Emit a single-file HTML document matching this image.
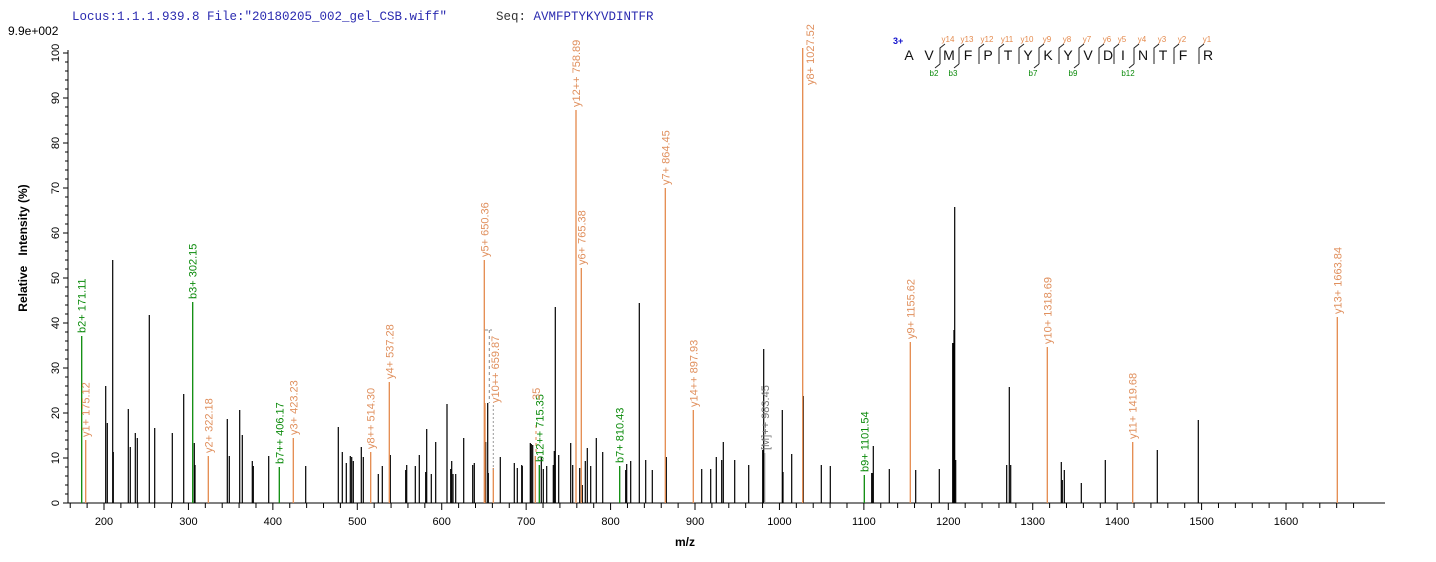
<!DOCTYPE html>
<html><head><meta charset="utf-8"><style>
body{margin:0;background:#fff;width:1436px;height:562px;overflow:hidden}
svg{display:block}
.t{font-family:"Liberation Sans",Arial,sans-serif}
.lo{fill:#e0905e;font-size:11px}
.lg{fill:#0a8a0a;font-size:11px}
.gr{fill:#777;font-size:11px}
</style></head><body>
<svg width="1436" height="562" xmlns="http://www.w3.org/2000/svg">
<text x="72" y="20" font-family="Liberation Mono,monospace" font-size="12.5" fill="#2b2bb0">Locus:1.1.1.939.8 File:"20180205_002_gel_CSB.wiff"</text>
<text x="496" y="20" font-family="Liberation Mono,monospace" font-size="12.5" fill="#333">Seq: <tspan fill="#2b2bb0">AVMFPTYKYVDINTFR</tspan></text>
<text x="8" y="35" class="t" font-size="12" fill="#000">9.9e+002</text>
<text class="t" font-size="12" font-weight="bold" style="white-space:pre" transform="translate(27,248) rotate(-90)" text-anchor="middle">Relative   Intensity (%)</text>
<text x="685" y="546" class="t" font-size="12" font-weight="bold" text-anchor="middle">m/z</text>
<g id="axes" stroke="#000" stroke-width="1"></g>
<g id="ticks" class="t" font-size="11"></g>
<g id="peaks"></g>
<g id="labels" class="t"></g>
<g class="t">
<text x="893" y="44" font-size="9" fill="#1010cc" font-weight="bold">3+</text>
<g id="seq" font-size="14" fill="#111"></g>
</g>
</svg>
<script>
const NS="http://www.w3.org/2000/svg";
function el(p,tag,a,txt){const e=document.createElementNS(NS,tag);for(const k in a)e.setAttribute(k,a[k]);if(txt!=null)e.textContent=txt;document.getElementById(p).appendChild(e);return e;}
const X0=104,K=0.8443,B=503;
const X=m=>X0+(m-200)*K;
el("axes","line",{x1:68,y1:B,x2:1385,y2:B});
el("axes","line",{x1:68,y1:B,x2:68,y2:50});
for(let p=0;p<=100;p+=2){const y=B-p*4.5;const maj=p%10==0;el("axes","line",{x1:maj?63:65,y1:y,x2:68,y2:y});
 if(maj){el("ticks","text",{transform:`translate(59,${y}) rotate(-90)`,"text-anchor":"middle"},String(p));}}
for(let m=160;m<=1680;m+=20){const x=X(m);const maj=m%100==0;el("axes","line",{x1:x,y1:B,x2:x,y2:B+(maj?7:5)});
 if(maj&&m<=1600)el("ticks","text",{x:x,y:B+22,"text-anchor":"middle"},String(m));}
const blk=[[105.7,386],[107.3,423],[112.7,260],[113.3,452],[128.3,409],[130.3,447],[135.3,433],[137.3,438],[149.3,315],[154.7,428],[172.3,433],[183.7,394],[194.3,443],[195,465],[227.3,419],[229.3,456],[239.7,410],[242.3,435],[252.3,461],[253.3,466],[268.7,456],[305.7,466],[338.3,427],[342.3,452],[346.3,463],[350.3,456],[351.7,457],[353.3,461],[361.3,447],[363.3,457],[378.3,474],[382.3,466],[390.3,455],[405.7,470],[406.7,465],[415.3,466],[419.3,455],[425.7,472],[426.7,429],[431.3,474],[435.7,442],[447,404],[450.7,469],[451.7,461],[453,474],[455.7,474],[463.7,438],[472.7,465],[474.3,463],[485.7,442],[487.7,403],[488.3,473],[500.3,457],[514.3,463],[517.3,468],[521.7,465],[522.3,466],[530.3,443],[531.3,444],[532.7,445],[541.3,457],[543.3,469],[546.7,466],[553.3,465],[554.3,451],[555.3,307],[558.7,455],[570.7,443],[572.7,465],[579.7,468],[582.3,485],[585.3,461],[587.3,448],[590.7,466],[596.3,438],[602.7,452],[625.7,470],[626.7,464],[630.7,461],[639.3,303],[645.7,460],[652.3,470],[666.3,457],[701.7,469],[710.7,469],[716.3,457],[721.7,460],[723.3,442],[734.7,460],[748.7,465],[762.7,450],[763.3,450],[763.7,349],[782.3,410],[783,472],[791.7,454],[803.3,396],[821.3,465],[830.3,466],[871.7,473],[872.3,473],[873.3,446],[889.3,469],[915.7,470],[939.3,469],[952.7,343],[953.3,343],[954,330],[954.7,207],[955.7,460],[1006.7,465],[1009.3,387],[1010.7,465],[1061.3,462],[1062.3,480],[1064.3,470],[1081.3,483],[1105.3,460],[1157.3,450],[1198.3,420]];
blk.forEach(([x,t])=>el("peaks","line",{x1:x,y1:B,x2:x,y2:t,stroke:"#000","stroke-width":1.2}));
const OR="#e4894c",GN="#0a8a0a";
const ann=[[81.7,336,GN,"b2+ 171.11","lg"],[85.7,440,OR,"y1+ 175.12","lo"],[192.7,302,GN,"b3+ 302.15","lg"],[208.3,456,OR,"y2+ 322.18","lo"],[279.3,467,GN,"b7++ 406.17","lg"],[293.3,438,OR,"y3+ 423.23","lo"],[370.7,452,OR,"y8++ 514.30","lo"],[389.3,382,OR,"y4+ 537.28","lo"],[484.3,260,OR,"y5+ 650.36","lo"],[485,403,OR,null],[493.3,468,OR,null],[535.3,456,OR,null],[539.3,465,GN,"b12++ 715.35","lg"],[576,110,OR,"y12++ 758.89","lo"],[581.3,268,OR,"y6+ 765.38","lo"],[619.7,466,GN,"b7+ 810.43","lg"],[665.3,188,OR,"y7+ 864.45","lo"],[693.3,410,OR,"y14++ 897.93","lo"],[802.7,48,OR,null],[864.3,475,GN,"b9+ 1101.54","lg"],[910.3,342,OR,"y9+ 1155.62","lo"],[1047.3,347,OR,"y10+ 1318.69","lo"],[1132.7,442,OR,"y11+ 1419.68","lo"],[1337.3,317,OR,"y13+ 1663.84","lo"]];
ann.forEach(([x,t,c,l,cl])=>{el("peaks","line",{x1:x,y1:B,x2:x,y2:t,stroke:c,"stroke-width":1.3});
 if(l)el("labels","text",{class:cl,transform:`translate(${x+4},${t-3}) rotate(-90)`},l);});
el("labels","text",{class:"lo",transform:"translate(814,85) rotate(-90)"},"y8+ 1027.52");
el("peaks","line",{x1:489.3,y1:330,x2:489.3,y2:403,stroke:"#888","stroke-dasharray":"3,3"});
el("peaks","line",{x1:485,y1:330,x2:492,y2:330,stroke:"#888","stroke-dasharray":"3,2"});
el("peaks","line",{x1:493.3,y1:405,x2:493.3,y2:470,stroke:"#999","stroke-dasharray":"2,2"});
el("labels","text",{class:"lo",transform:"translate(499,403) rotate(-90)"},"y10++ 659.87");
el("labels","text",{class:"lo",transform:"translate(540,400) rotate(-90)"},"35");
el("peaks","line",{x1:536,y1:425,x2:536,y2:455,stroke:"#e4894c","stroke-dasharray":"3,3"});
el("peaks","line",{x1:764.7,y1:453,x2:764.7,y2:B,stroke:"#888","stroke-width":1.2});
el("labels","text",{class:"gr",transform:"translate(769,450) rotate(-90)"},"[M]++ 983.45");
const seq="AVMFPTYKYVDINTFR".split("");
const sx=[909,929,949,968,988,1008,1028,1048,1068,1088,1108,1123,1143,1163,1183,1208];
seq.forEach((c,i)=>el("seq","text",{x:sx[i],y:60,"text-anchor":"middle"},c));
for(let i=2;i<16;i++){const x=sx[i]-9;el("seq","path",{d:`M${x+5},44 L${x},48 L${x},64`,stroke:"#222",fill:"none","stroke-width":1});
 el("seq","text",{x:x+8,y:42,"font-size":8,fill:"#e4894c","text-anchor":"middle"},"y"+(16-i));}
[[2,"b2"],[3,"b3"],[7,"b7"],[9,"b9"],[12,"b12"]].forEach(([i,l])=>{const x=sx[i]-9;el("seq","path",{d:`M${x},64 L${x-5},68`,stroke:"#222",fill:"none"});el("seq","text",{x:x-6,y:76,"font-size":8,fill:"#0a8a0a","text-anchor":"middle"},l);});
</script>
</body></html>
